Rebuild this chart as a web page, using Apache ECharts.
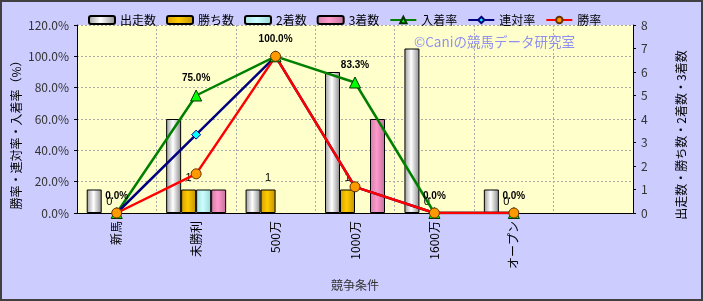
<!DOCTYPE html>
<html><head><meta charset="utf-8">
<script src="https://cdn.jsdelivr.net/npm/echarts@6/dist/echarts.min.js"></script>
<style>html,body{margin:0;padding:0;background:#CCCCFF;}#c{width:703px;height:301px;}</style>
</head><body><div id="c"></div>
<script>
var categories = ['新馬','未勝利','500万','1000万','1600万','オープン',''];
var starts   = [1, 4, 1, 6, 7, 1, null];
var wins     = [0, 1, 1, 1, 0, 0, null];
var seconds  = [0, 1, 0, 0, 0, 0, null];
var thirds   = [0, 1, 0, 4, 0, 0, null];
var placeRate    = [0, 75.0, 100.0, 83.3, 0, 0, null];
var quinellaRate = [0, 50.0, 100.0, 16.7, 0, 0, null];
var winRate      = [0, 25.0, 100.0, 16.7, 0, 0, null];
var leftTicks = [0, 20, 40, 60, 80, 100, 120];
var rightTicks = [0, 1, 2, 3, 4, 5, 6, 7, 8];
var leftTitle = '勝率・連対率・入着率（%）';
var rightTitle = '出走数・勝ち数・2着数・3着数';

var FONT = '"Noto Sans CJK JP", "Noto Sans", sans-serif';
function grad(c0, c1, c2) {
  return {type:'linear', x:0, y:0, x2:1, y2:0,
    colorStops:[{offset:0,color:c0},{offset:0.45,color:c1},{offset:1,color:c2}]};
}
function hideZero(arr) {
  return arr.map(function(v){
    if (v === 0) return {value:0, itemStyle:{color:'transparent', borderColor:'transparent', borderWidth:0}};
    return v;
  });
}
function barSeries(name, data, color, extra) {
  var s = {name:name, type:'bar', yAxisIndex:1, data:hideZero(data), barWidth:15, barGap:'0%',
    itemStyle:{color:color, borderColor:'#000', borderWidth:1}, z:2};
  if (extra) for (var k in extra) s[k] = extra[k];
  return s;
}
function lineSeries(name, data, lineColor, symbol, size, fill, border, extra) {
  var s = {name:name, type:'line', yAxisIndex:0, data:data, symbol:symbol, symbolSize:size,
    lineStyle:{color:lineColor, width:2.5}, itemStyle:{color:fill, borderColor:border, borderWidth:1},
    z:5};
  if (extra) for (var k in extra) s[k] = extra[k];
  return s;
}
var chart = echarts.init(document.getElementById('c'));
chart.setOption({
  backgroundColor:'#CCCCFF',
  animation:false,
  textStyle:{fontFamily:FONT},
  graphic:[
    {type:'rect', shape:{x:1,y:1,width:701,height:299}, style:{fill:'none', stroke:'#404040', lineWidth:2}, z:100},
    {type:'text', left:414, top:35, style:{text:'©Caniの競馬データ研究室', fill:'#9090ee', font:'13.5px ' + FONT}, z:1},
    {type:'text', x:16, y:132, rotation:Math.PI/2,
     style:{text:leftTitle, fill:'#000', font:'12px ' + FONT, textAlign:'center', textVerticalAlign:'middle'}},
    {type:'text', x:681, y:135, rotation:Math.PI/2,
     style:{text:rightTitle, fill:'#000', font:'12px ' + FONT, textAlign:'center', textVerticalAlign:'middle'}}
  ],
  legend:{
    left:83, top:9, itemGap:10, itemWidth:26, itemHeight:8,
    textStyle:{fontSize:12, color:'#000', fontFamily:FONT},
    data:['出走数','勝ち数','2着数','3着数','入着率','連対率','勝率']
  },
  grid:{left:77, right:70, top:25, bottom:88, show:true, backgroundColor:'#FFFFCC', borderWidth:0},
  xAxis:{
    type:'category', data:categories, boundaryGap:true,
    axisLine:{lineStyle:{color:'#000', width:1}}, axisTick:{show:false},
    axisLabel:{rotate:90, interval:0, color:'#000', fontSize:12, margin:8, fontFamily:FONT},
    splitLine:{show:true, interval:0, lineStyle:{color:'#aaa', type:[2,2], width:1}},
    name:'競争条件', nameLocation:'middle', nameGap:66,
    nameTextStyle:{color:'#333', fontSize:12, fontFamily:FONT}
  },
  yAxis:[
    {type:'value', min:leftTicks[0], max:leftTicks[leftTicks.length-1], interval:20, position:'left',
     axisLine:{show:true, lineStyle:{color:'#000'}}, axisTick:{show:true, length:3, lineStyle:{color:'#000'}},
     axisLabel:{color:'#333', fontSize:12, margin:8, formatter:function(v){return v.toFixed(1)+'%';}},
     splitLine:{show:true, lineStyle:{color:'#aaa', type:[2,2], width:1}}},
    {type:'value', min:rightTicks[0], max:rightTicks[rightTicks.length-1], interval:1, position:'right',
     axisLine:{show:true, lineStyle:{color:'#000'}}, axisTick:{show:true, length:3, lineStyle:{color:'#000'}},
     axisLabel:{color:'#333', fontSize:12, margin:8},
     splitLine:{show:false}}
  ],
  series:[
    barSeries('出走数', starts, grad('#9a9a9a','#ffffff','#8a8a8a')),
    barSeries('勝ち数', wins, grad('#d4a000','#ffcc00','#c09000'), {
      label:{show:true, position:'top', distance:6, fontSize:11, color:'#000', fontFamily:'"Liberation Sans", Arial, sans-serif'}}),
    barSeries('2着数', seconds, grad('#a8e0e0','#ccffff','#9ad4d4')),
    barSeries('3着数', thirds, grad('#d080a8','#ff99cc','#c07098')),
    lineSeries('入着率', placeRate, '#008000', 'triangle', 11, '#00ff00', '#003300', {
      label:{show:true, position:'top', distance:6, fontSize:10, fontWeight:'bold', color:'#000',
        fontFamily:'"Liberation Sans", Arial, sans-serif',
        formatter:function(p){return p.value.toFixed(1)+'%';}}}),
    lineSeries('連対率', quinellaRate, '#000080', 'diamond', 9, '#00ffff', '#000080'),
    lineSeries('勝率', winRate, '#ff0000', 'circle', 10, '#ff9900', '#663300')
  ]
});
</script></body></html>
